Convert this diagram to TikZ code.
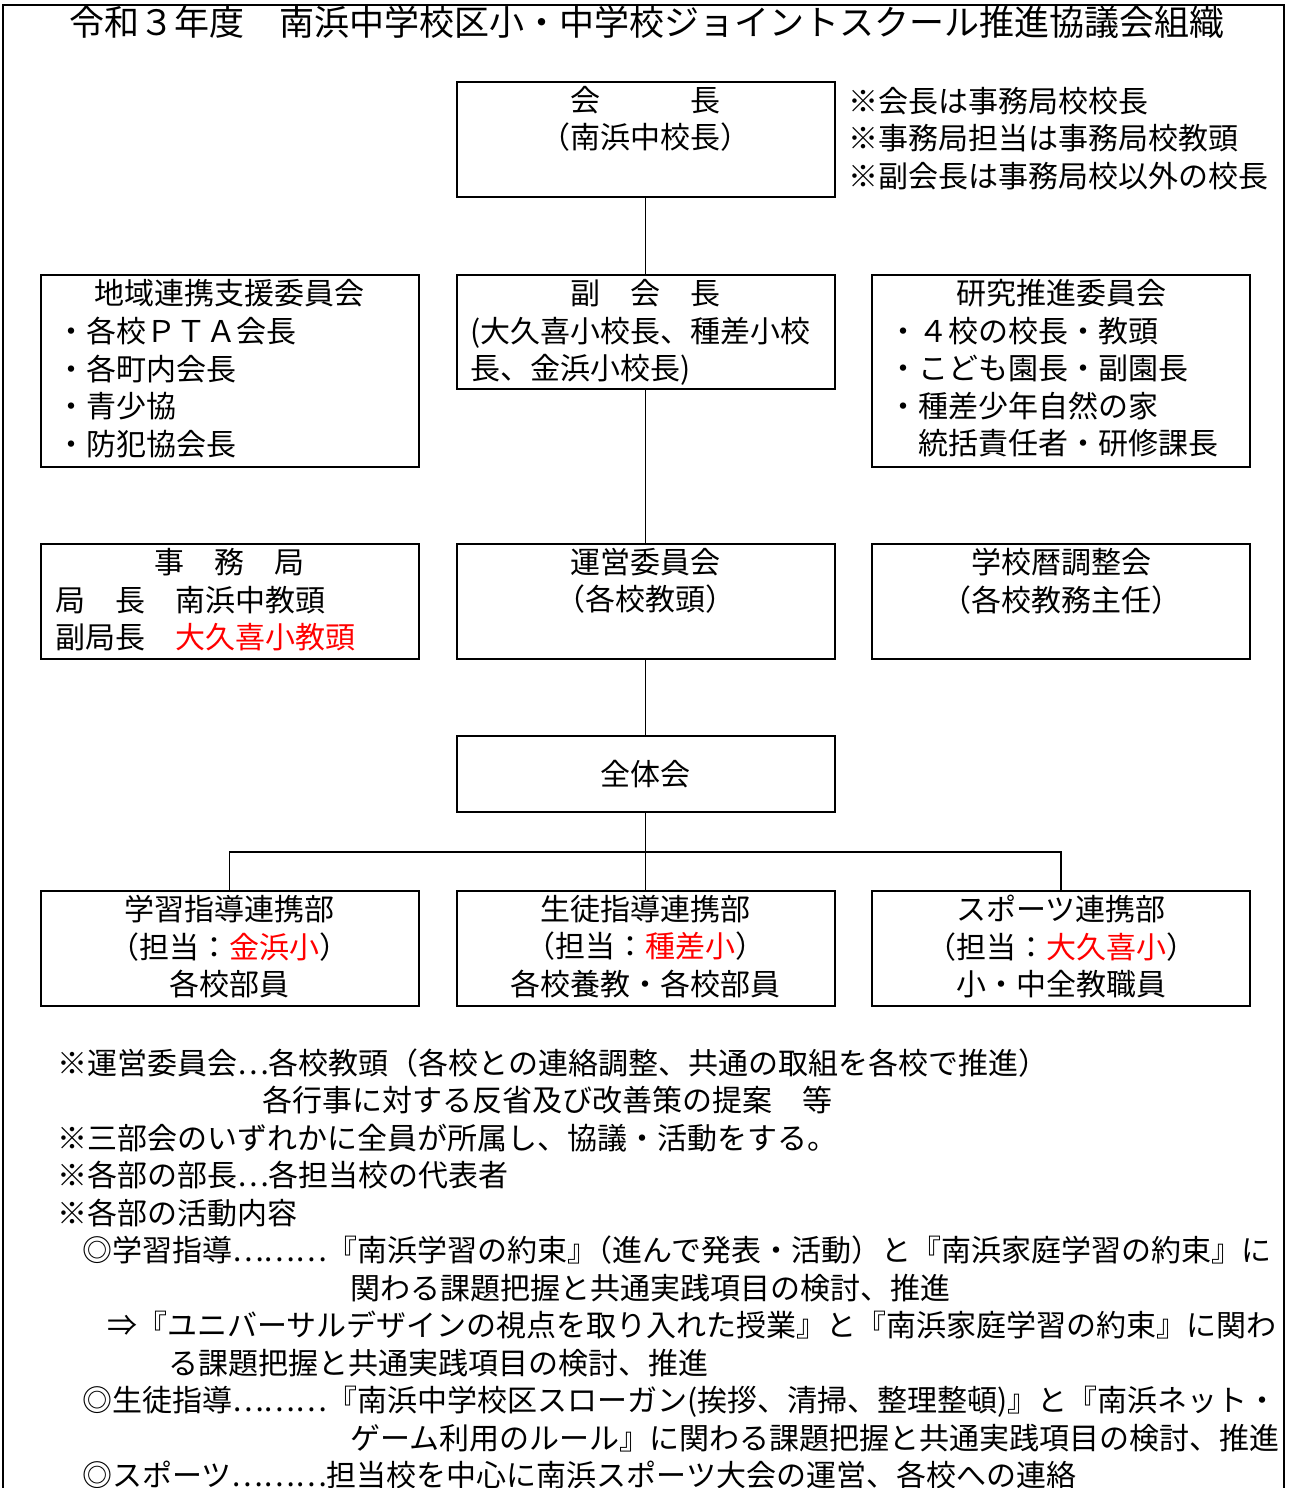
\documentclass[tikz,border=0pt]{standalone}
\usepackage{fontspec}
\setmainfont{Noto Sans CJK JP}
\usetikzlibrary{positioning}

\tikzset{
  unit/.style={draw, line width=2pt, minimum width=378pt, inner sep=0pt},
  txt/.style={inner sep=0pt, font=\fontsize{30}{37.5}\selectfont},
  link/.style={line width=1.5pt},
}

\begin{document}
\begin{tikzpicture}[x=1pt,y=-1pt]
  \useasboundingbox (0,0) rectangle (1288,1488);
  \draw[link] (3,1488) -- (3,5) -- (1284,5) -- (1284,1488);
  \node[txt, font=\fontsize{35}{40}\selectfont] (title) at (647,22) {令和３年度　南浜中学校区小・中学校ジョイントスクール推進協議会組織};

  % boxes
  \node[unit, minimum height=115pt] (kaicho) at (645.5,139.5) {};
  \node[unit, minimum height=192pt] (chiiki) at (229.5,371) {};
  \node[unit, minimum height=114pt] (fuku) at (645.5,332) {};
  \node[unit, minimum height=192pt] (kenkyu) at (1061,371) {};
  \node[unit, minimum height=115pt] (jimu) at (229.5,601.5) {};
  \node[unit, minimum height=115pt] (unei) at (645.5,601.5) {};
  \node[unit, minimum height=115pt] (gakko) at (1061,601.5) {};
  \node[unit, txt, minimum height=76pt] (zentai) at (645.5,774) {全体会};
  \node[unit, minimum height=115pt] (gakushu) at (229.5,948.5) {};
  \node[unit, minimum height=115pt] (seito) at (645.5,948.5) {};
  \node[unit, minimum height=115pt] (sports) at (1061,948.5) {};

  % texts in the boxes
  \node[txt, anchor=north, align=center, yshift=-5pt] (kaicho-t) at (kaicho.north) {会　　　長\\（南浜中校長）};
  \node[txt, anchor=north west, align=left] (memo) at (848,87) {※会長は事務局校校長\\※事務局担当は事務局校教頭\\※副会長は事務局校以外の校長};

  \node[txt, anchor=north, yshift=-5pt] (chiiki-t) at (chiiki.north) {地域連携支援委員会};
  \node[txt, anchor=north west, align=left] (chiiki-l) at (56,317) {・各校ＰＴＡ会長\\・各町内会長\\・青少協\\・防犯協会長};

  \node[txt, anchor=north, yshift=-5pt] (fuku-t) at (fuku.north) {副　会　長};
  \node[txt, anchor=north west, align=left] (fuku-l) at (470,317) {(大久喜小校長、種差小校\\長、金浜小校長)};

  \node[txt, anchor=north, yshift=-5pt] (kenkyu-t) at (kenkyu.north) {研究推進委員会};
  \node[txt, anchor=north west, align=left] (kenkyu-l) at (888,317) {・４校の校長・教頭\\・こども園長・副園長\\・種差少年自然の家\\　統括責任者・研修課長};

  \node[txt, anchor=north, yshift=-5pt] (jimu-t) at (jimu.north) {事　務　局};
  \node[txt, anchor=north west, align=left] (jimu-l) at (55,586) {局　長　南浜中教頭\\副局長　\textcolor{red}{大久喜小教頭}};

  \node[txt, anchor=north, align=center, yshift=-5pt] (unei-t) at (unei.north) {運営委員会\\（各校教頭）};
  \node[txt, anchor=north, align=center, yshift=-5pt] (gakko-t) at (gakko.north) {学校暦調整会\\（各校教務主任）};

  \node[txt, anchor=north, align=center, yshift=-5pt] (gakushu-t) at (gakushu.north) {学習指導連携部\\（担当：\textcolor{red}{金浜小}）\\各校部員};
  \node[txt, anchor=north, align=center, yshift=-5pt] (seito-t) at (seito.north) {生徒指導連携部\\（担当：\textcolor{red}{種差小}）\\各校養教・各校部員};
  \node[txt, anchor=north, align=center, yshift=-5pt] (sports-t) at (sports.north) {スポーツ連携部\\（担当：\textcolor{red}{大久喜小}）\\小・中全教職員};

  % connectors
  \coordinate (bus) at (645.5,852);
  \draw[link] (kaicho) -- (fuku);
  \draw[link] (fuku) -- (unei);
  \draw[link] (unei) -- (zentai);
  \draw[link] (zentai) -- (seito);
  \draw[link] (gakushu.north) |- (bus) -| (sports.north);

  % notes
  \node[txt, anchor=north west, align=left] (notes) at (57,1048.5) {※運営委員会…各校教頭（各校との連絡調整、共通の取組を各校で推進）\\
    \hspace*{205pt}各行事に対する反省及び改善策の提案　等\\
    ※三部会のいずれかに全員が所属し、協議・活動をする。\\
    ※各部の部長…各担当校の代表者\\
    ※各部の活動内容\\
    \hspace*{25pt}◎学習指導………『南浜学習の約束』\hspace{-15pt}（進んで発表・活動）と『南浜家庭学習の約束』に\\
    \hspace*{293pt}関わる課題把握と共通実践項目の検討、推進\\
    \hspace*{50pt}⇒『ユニバーサルデザインの視点を取り入れた授業』と『南浜家庭学習の約束』に関わ\\
    \hspace*{111pt}る課題把握と共通実践項目の検討、推進\\
    \hspace*{25pt}◎生徒指導………『南浜中学校区スローガン(挨拶、清掃、整理整頓)』と『南浜ネット・\\
    \hspace*{293pt}ゲーム利用のルール』に関わる課題把握と共通実践項目の検討、推進\\
    \hspace*{25pt}◎スポーツ………担当校を中心に南浜スポーツ大会の運営、各校への連絡};
\end{tikzpicture}
\end{document}
